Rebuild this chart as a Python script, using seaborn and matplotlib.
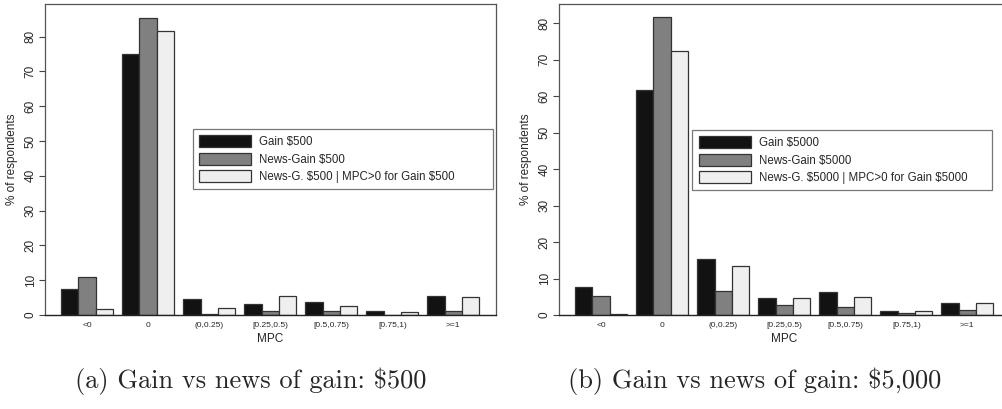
import matplotlib
matplotlib.use("Agg")
import matplotlib.pyplot as plt
import seaborn as sns
import pandas as pd
from matplotlib.patches import Patch

categories = ["<0", "0", "(0,0.25)", "[0.25,0.5)", "[0.5,0.75)", "[0.75,1)", ">=1"]

series_a = ["Gain $500", "News-Gain $500", "News-G. $500 | MPC>0 for Gain $500"]
gain_500 = [7.5, 75.1, 4.6, 3.2, 3.6, 1.2, 5.5]
news_500 = [10.9, 85.5, 0.3, 1.1, 1.2, 0.1, 1.2]
cond_500 = [1.8, 81.6, 2.0, 5.5, 2.7, 1.0, 5.3]

series_b = ["Gain $5000", "News-Gain $5000", "News-G. $5000 | MPC>0 for Gain $5000"]
gain_5000 = [7.8, 61.7, 15.4, 4.7, 6.3, 1.2, 3.4]
news_5000 = [5.1, 81.6, 6.6, 2.7, 2.1, 0.5, 1.4]
cond_5000 = [0.3, 72.4, 13.4, 4.6, 4.8, 1.0, 3.4]

captions = ["(a) Gain vs news of gain: $500", "(b) Gain vs news of gain: $5,000"]
y_ticks = [0, 10, 20, 30, 40, 50, 60, 70, 80]

colors = ["#121212", "#808080", "#efefef"]

sns.set_style("white")
plt.rcParams['font.family'] = ['Liberation Sans', 'DejaVu Sans']
plt.rcParams['mathtext.fontset'] = 'cm'


def long_df(series, vals):
    rows = []
    for s, v in zip(series, vals):
        for c, y in zip(categories, v):
            rows.append({"MPC": c, "series": s, "pct": y})
    return pd.DataFrame(rows)


fig = plt.figure(figsize=(10.02, 4.09), dpi=100)
ax_a = fig.add_axes([45 / 1002, 94 / 409, 451 / 1002, 311 / 409])
ax_b = fig.add_axes([559 / 1002, 94 / 409, 451 / 1002, 311 / 409])

panels = [
    (ax_a, series_a, [gain_500, news_500, cond_500], 89.4, (0.328, 0.598)),
    (ax_b, series_b, [gain_5000, news_5000, cond_5000], 85.3, (0.296, 0.595)),
]

for ax, series, vals, ytop, anchor in panels:
    df = long_df(series, vals)
    sns.barplot(data=df, x="MPC", y="pct", hue="series", order=categories,
                hue_order=series, palette=colors, width=0.85, ax=ax,
                edgecolor="#333333", linewidth=0.9, saturation=1, legend=False)
    ax.set_xlim(-0.69, 6.70)
    ax.set_ylim(0, ytop)
    ax.set_yticks(y_ticks)
    ax.set_yticklabels([str(t) for t in y_ticks], rotation=90, va="center", fontsize=8.5)
    ax.tick_params(axis="y", which="both", left=True, length=4, width=0.8,
                   color="#444444", pad=2)
    ax.tick_params(axis="x", length=0, labelsize=6, pad=5)
    ax.set_ylabel("% of respondents", fontsize=8.5, labelpad=5)
    ax.set_xlabel("MPC", fontsize=8.5, labelpad=3)
    for side in ["top", "right", "left"]:
        ax.spines[side].set_visible(True)
        ax.spines[side].set_color("#555555")
        ax.spines[side].set_linewidth(0.9)
    ax.spines["bottom"].set_color("#222222")
    ax.spines["bottom"].set_linewidth(1.0)
    handles = [Patch(facecolor=c, edgecolor="#333333", linewidth=0.9) for c in colors]
    labels = [s.replace("$", r"\$") for s in series]
    leg = ax.legend(handles, labels, loc="upper left",
                    bbox_to_anchor=(anchor[0], anchor[1] - 0.2, 0.665, 0.2),
                    mode="expand",
                    borderaxespad=0, fontsize=8.3, frameon=True, fancybox=False,
                    handlelength=4.5, handleheight=1.2, handletextpad=0.7,
                    labelspacing=0.4, borderpad=0.55)
    leg.get_frame().set_edgecolor("#555555")
    leg.get_frame().set_linewidth(0.9)

fig.text(251 / 1002, 1 - 381 / 409, captions[0], ha="center", va="center",
         fontsize=19, family="cmr10", parse_math=False)
fig.text(755 / 1002, 1 - 381 / 409, captions[1], ha="center", va="center",
         fontsize=19, family="cmr10", parse_math=False)

fig.savefig("out.png", dpi=100)
